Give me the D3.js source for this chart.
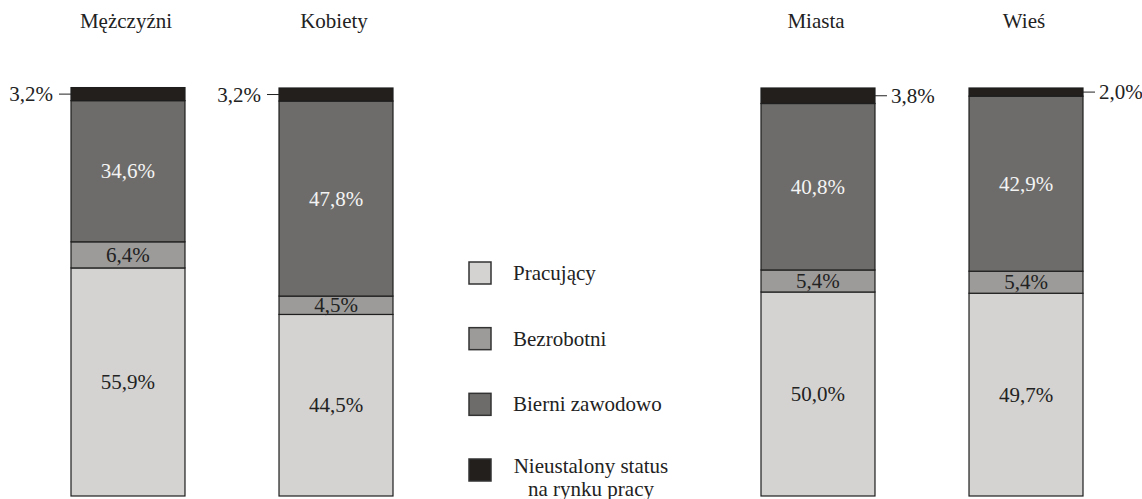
<!DOCTYPE html>
<html>
<head>
<meta charset="utf-8">
<script src="https://cdn.jsdelivr.net/npm/d3@7"></script>
</head>
<body style="margin:0; background:#fff">
<div class="canvas"></div>
<script>
const groupLeft = ['Mężczyźni', 'Kobiety'];
const groupRight = ['Miasta', 'Wieś'];
const categories = [...groupLeft, ...groupRight];
const seriesNames = ['Pracujący', 'Bezrobotni', 'Bierni zawodowo', 'Nieustalony status na rynku pracy'];
const pracujacy = [55.9, 44.5, 50.0, 49.7];
const bezrobotni = [6.4, 4.5, 5.4, 5.4];
const bierni = [34.6, 47.8, 40.8, 42.9];
const nieustalony = [3.2, 3.2, 3.8, 2.0];

const colors = ['#d4d3d1', '#9c9b99', '#6d6c6a', '#231f1c'];
const labelColors = ['#222', '#222', '#f4f4f4', '#222'];

const width = 1142;
const height = 499;
const fontSize = 21;
const font = "'Times New Roman', Tinos, Times, serif";

const svg = d3.select('.canvas')
    .append('svg')
    .attr('width', width)
    .attr('height', height)
    .style('font-family', font);

// one row per category, keys are series indexes
const table = categories.map((c, i) => ({
    cat: c,
    s0: pracujacy[i],
    s1: bezrobotni[i],
    s2: bierni[i],
    s3: nieustalony[i]
}));
const keys = ['s0', 's1', 's2', 's3'];
const stacked = d3.stack().keys(keys)(table);

const y = d3.scaleLinear().domain([0, 100]).range([496, 88]);

// two groups of bars with the legend in between
const xLeft = d3.scaleBand().domain(groupLeft).range([71, 393]).paddingInner(0.452);
const xRight = d3.scaleBand().domain(groupRight).range([761, 1083]).paddingInner(0.452);
const x = c => groupLeft.includes(c) ? xLeft(c) : xRight(c);
const bw = xLeft.bandwidth();

// Segments
stacked.forEach((layer, k) => {
    svg.append('g')
        .selectAll('rect')
        .data(layer)
        .enter()
        .append('rect')
        .attr('x', d => x(d.data.cat))
        .attr('y', d => y(d[1]))
        .attr('width', bw)
        .attr('height', d => y(d[0]) - y(d[1]))
        .attr('fill', colors[k])
        .attr('stroke', '#1e1e1e')
        .attr('stroke-width', 1.2);
});

const fmt = v => d3.format('.1f')(v).replace('.', ',') + '%';

// Inner labels for first three series
stacked.slice(0, 3).forEach((layer, k) => {
    svg.append('g')
        .selectAll('text')
        .data(layer)
        .enter()
        .append('text')
        .attr('x', d => x(d.data.cat) + bw / 2)
        .attr('y', d => (y(d[0]) + y(d[1])) / 2)
        .attr('dy', '0.34em')
        .attr('text-anchor', 'middle')
        .attr('font-size', fontSize)
        .attr('fill', labelColors[k])
        .style('font-family', font)
        .text(d => fmt(d.data[keys[k]]));
});

// Top series labels with leader lines
const topLayer = stacked[3];
topLayer.forEach(d => {
    const left = groupLeft.includes(d.data.cat);
    const cy = (y(d[0]) + y(d[1])) / 2;
    const x0 = left ? x(d.data.cat) : x(d.data.cat) + bw;
    const x1 = left ? x0 - 12 : x0 + 12;
    svg.append('line')
        .attr('x1', x0).attr('x2', x1)
        .attr('y1', cy).attr('y2', cy)
        .attr('stroke', '#222')
        .attr('stroke-width', 1);
    svg.append('text')
        .attr('x', left ? x1 - 6 : x1 + 4)
        .attr('y', cy)
        .attr('dy', '0.34em')
        .attr('text-anchor', left ? 'end' : 'start')
        .attr('font-size', fontSize)
        .attr('fill', '#222')
        .style('font-family', font)
        .text(fmt(d.data.s3));
});

// Titles
svg.append('g')
    .selectAll('text')
    .data(categories)
    .enter()
    .append('text')
    .attr('x', d => x(d) + bw / 2 - 2)
    .attr('y', 28)
    .attr('text-anchor', 'middle')
    .attr('font-size', fontSize)
    .attr('fill', '#222')
    .style('font-family', font)
    .text(d => d);

// Legend
const ly = d3.scaleLinear().domain([0, 3]).range([273, 470]);
const legend = svg.append('g');
seriesNames.forEach((name, i) => {
    legend.append('rect')
        .attr('x', 469)
        .attr('y', ly(i) - 11)
        .attr('width', 22)
        .attr('height', 22)
        .attr('fill', colors[i])
        .attr('stroke', '#333')
        .attr('stroke-width', 1.5);
    if (i < 3) {
        legend.append('text')
            .attr('x', 513)
            .attr('y', ly(i))
            .attr('dy', '0.34em')
            .attr('font-size', fontSize)
            .attr('fill', '#222')
            .style('font-family', font)
            .text(name);
    } else {
        const t = legend.append('text')
            .attr('text-anchor', 'middle')
            .attr('font-size', fontSize)
            .attr('fill', '#222')
            .style('font-family', font);
        t.append('tspan').attr('x', 591).attr('y', ly(i) + 3).text('Nieustalony status');
        t.append('tspan').attr('x', 591).attr('y', ly(i) + 26).text('na rynku pracy');
    }
});
</script>
</body>
</html>
